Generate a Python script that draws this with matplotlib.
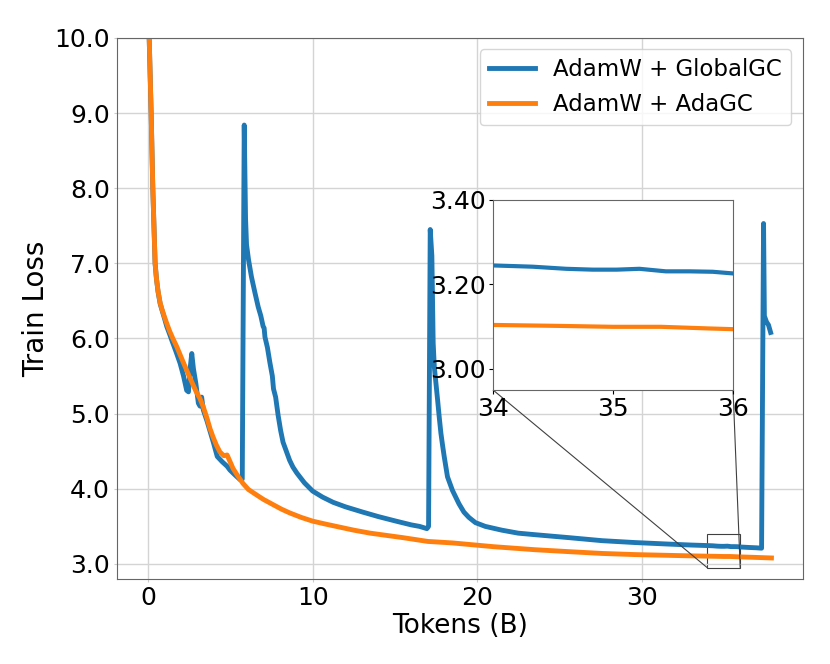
import matplotlib
matplotlib.use("Agg")
import matplotlib.pyplot as plt
from mpl_toolkits.axes_grid1.inset_locator import mark_inset

# Train loss curves (tokens in billions)
blue_x = [0.0, 0.06, 0.18, 0.28, 0.42, 0.50, 0.60, 0.73, 0.85, 1.00, 1.13, 1.30,
          1.43, 1.70, 1.94, 2.15, 2.34, 2.45, 2.55, 2.65, 2.75, 2.90, 3.05, 3.15,
          3.25, 3.35, 3.58, 3.96, 4.20, 4.50, 4.80, 4.97, 5.30, 5.60, 5.72,
          5.84, 5.92, 5.98, 6.10, 6.28, 6.48, 6.69, 6.85, 6.99, 7.05, 7.10, 7.25,
          7.40, 7.55, 7.62, 7.75, 7.90, 8.05, 8.20, 8.40, 8.60, 8.80, 9.04, 9.50,
          10.0, 10.6, 11.25, 12.0, 13.05, 14.0, 15.07, 16.0, 16.5, 16.95,
          17.05, 17.15, 17.25, 17.33, 17.40, 17.50, 17.60, 17.70, 17.80, 17.90,
          18.00, 18.20, 18.50, 18.90, 19.20, 19.50, 19.90, 20.50, 21.50, 22.50,
          23.50, 25.6, 27.6, 29.6, 31.6, 33.0, 34.0, 34.33, 34.61, 34.83, 35.03,
          35.22, 35.44, 35.64, 35.83, 36.0, 36.5, 37.0, 37.3,
          37.42, 37.47, 37.60, 37.72, 37.85]
blue_y = [10.9, 10.0, 9.0, 8.0, 7.0, 6.80, 6.62, 6.46, 6.37, 6.26, 6.16, 6.06,
          5.98, 5.82, 5.67, 5.50, 5.31, 5.29, 5.60, 5.80, 5.60, 5.40, 5.14, 5.10,
          5.22, 5.05, 4.90, 4.62, 4.43, 4.36, 4.30, 4.25, 4.18, 4.12, 4.13,
          8.84, 7.60, 7.25, 7.05, 6.82, 6.62, 6.42, 6.30, 6.16, 6.14, 6.02, 5.88,
          5.68, 5.50, 5.33, 5.22, 4.98, 4.78, 4.62, 4.50, 4.38, 4.29, 4.21, 4.08,
          3.97, 3.89, 3.82, 3.76, 3.69, 3.63, 3.57, 3.52, 3.50, 3.47,
          3.50, 7.45, 7.10, 5.94, 5.62, 5.40, 5.18, 4.95, 4.74, 4.58,
          4.43, 4.16, 3.98, 3.80, 3.69, 3.62, 3.55, 3.50, 3.45, 3.41,
          3.39, 3.35, 3.31, 3.285, 3.265, 3.252, 3.245, 3.242, 3.237, 3.235, 3.235,
          3.237, 3.231, 3.231, 3.230, 3.226, 3.22, 3.215, 3.21,
          7.53, 6.30, 6.22, 6.18, 6.08]

orange_x = [0.0, 0.06, 0.18, 0.28, 0.42, 0.50, 0.60, 0.73, 0.85, 1.00, 1.13, 1.30,
            1.50, 1.74, 2.10, 2.55, 2.90, 3.15, 3.35, 3.56, 3.76, 3.96, 4.15, 4.36,
            4.60, 4.80, 5.00, 5.16, 5.45, 5.77, 6.10, 6.58, 7.00, 7.59, 8.10, 8.60,
            9.30, 10.0, 10.8, 11.65, 12.5, 13.5, 14.5, 15.5, 17.0, 18.5, 19.5, 21.0,
            23.5, 25.5, 27.6, 29.6, 31.6, 33.0, 34.0, 34.5, 35.0, 35.4, 35.8, 36.0,
            37.0, 37.9]
orange_y = [10.9, 10.0, 9.0, 8.0, 7.0, 6.80, 6.63, 6.47, 6.38, 6.28, 6.20, 6.10,
            6.00, 5.89, 5.70, 5.47, 5.30, 5.20, 5.09, 4.95, 4.80, 4.68, 4.58, 4.49,
            4.44, 4.45, 4.35, 4.27, 4.17, 4.07, 3.99, 3.92, 3.86, 3.79, 3.73, 3.68,
            3.62, 3.57, 3.53, 3.49, 3.45, 3.41, 3.38, 3.35, 3.30, 3.28, 3.26, 3.23,
            3.19, 3.165, 3.14, 3.125, 3.115, 3.108, 3.104, 3.102, 3.0996, 3.0996, 3.0957,
            3.094, 3.087, 3.08]

labels = ["AdamW + GlobalGC", "AdamW + AdaGC"]
colors = ["#1f77b4", "#ff7f0e"]
main_yticks = [3.0, 4.0, 5.0, 6.0, 7.0, 8.0, 9.0, 10.0]
zoom_xlim = (34, 36)
zoom_ylim = (2.95, 3.40)

fig = plt.figure(figsize=(8.3, 6.64), dpi=100)
ax = fig.add_axes([0.141, 0.128, 0.826, 0.815])

ax.plot(blue_x, blue_y, color=colors[0], lw=3.5, label=labels[0])
ax.plot(orange_x, orange_y, color=colors[1], lw=3.5, label=labels[1])

ax.set_ylim(2.8, 10.0)
ax.set_yticks(main_yticks)
ax.set_yticklabels([f"{v:.1f}" for v in main_yticks])
ax.set_xticks([0, 10, 20, 30])
ax.tick_params(labelsize=18, length=2.5, pad=2.5, color="#cccccc")
ax.set_xlabel("Tokens (B)", fontsize=19, labelpad=2)
ax.set_ylabel("Train Loss", fontsize=20, labelpad=3)
ax.grid(True, color="#d4d4d4", lw=1)
for s in ax.spines.values():
    s.set_color("#666666")
ax.legend(loc="upper right", fontsize=16.5)

# zoomed inset
axins = fig.add_axes([0.594, 0.4127, 0.2892, 0.2861])
axins.plot(blue_x, blue_y, color=colors[0], lw=3)
axins.plot(orange_x, orange_y, color=colors[1], lw=3)
axins.set_xlim(*zoom_xlim)
axins.set_ylim(*zoom_ylim)
axins.set_xticks([34, 35, 36])
axins.set_yticks([3.0, 3.2, 3.4])
axins.set_yticklabels(["3.00", "3.20", "3.40"])
axins.tick_params(labelsize=18, length=3, pad=2)
for s in axins.spines.values():
    s.set_color("#666666")
mark_inset(ax, axins, loc1=3, loc2=4, fc="none", ec="0.25", lw=0.8)

fig.savefig("out.png", dpi=100)
